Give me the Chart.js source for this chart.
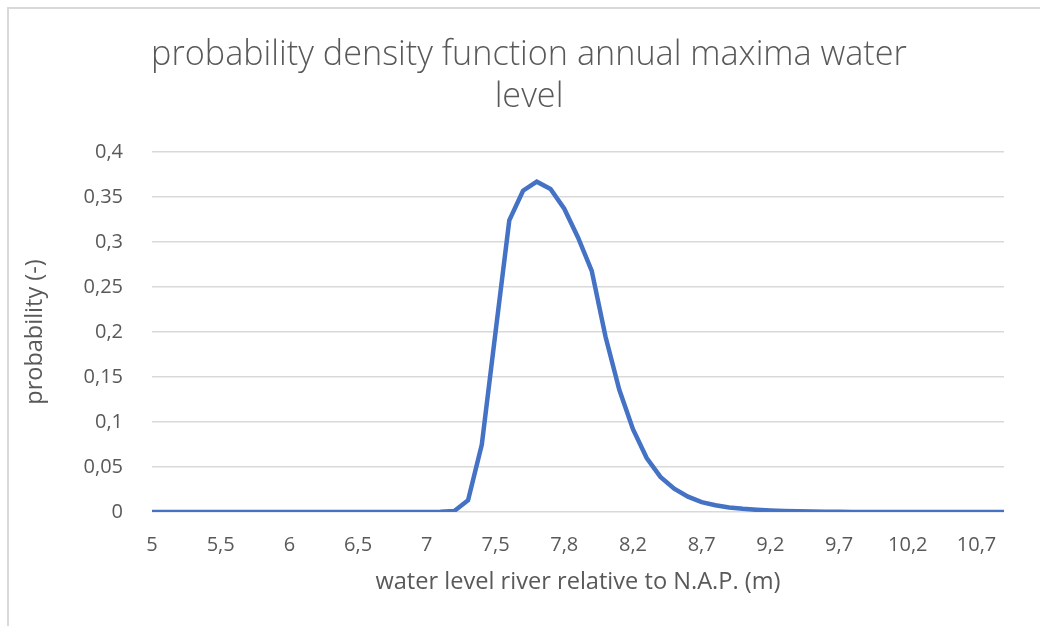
<!DOCTYPE html>
<html>
<head>
<meta charset="utf-8">
<script src="https://cdn.jsdelivr.net/npm/chart.js@4.4.1/dist/chart.umd.min.js"></script>
<style>
    html, body { margin: 0; padding: 0; background: #fff; overflow: hidden; }
    #frame {
        position: absolute; left: 7px; top: 7px;
        width: 1040px; height: 617px;
        border-left: 2px solid #d9d9d9; border-top: 2px solid #d9d9d9;
    }
    #box { position: relative; width: 1040px; height: 617px; }
</style>
</head>
<body>
<div id="frame"><div id="box"><canvas id="pdfChart"></canvas></div></div>
<script>
// water level (m relative to N.A.P.), one category per point
const waterLevels = [
    5.0, 5.1, 5.2, 5.3, 5.4, 5.5, 5.6, 5.7, 5.8, 5.9,
    6.0, 6.1, 6.2, 6.3, 6.4, 6.5, 6.6, 6.7, 6.8, 6.9,
    7.0, 7.1, 7.2, 7.3, 7.4, 7.5, 7.6, 7.65, 7.7, 7.75,
    7.8, 7.9, 8.0, 8.05, 8.1, 8.2, 8.3, 8.4, 8.5, 8.6,
    8.7, 8.8, 8.9, 9.0, 9.1, 9.2, 9.3, 9.4, 9.5, 9.6,
    9.7, 9.8, 9.9, 10.0, 10.1, 10.2, 10.3, 10.4, 10.5, 10.6,
    10.7, 10.8, 10.9
];

// probability density
const probability = [
    0, 0, 0, 0, 0, 0, 0, 0, 0, 0,
    0, 0, 0, 0, 0, 0, 0, 0, 0, 0,
    0, 0.0002, 0.0012, 0.013, 0.075, 0.2, 0.324, 0.357, 0.367, 0.359,
    0.337, 0.305, 0.268, 0.195, 0.136, 0.092, 0.06, 0.039, 0.026, 0.017,
    0.011, 0.0075, 0.005, 0.0035, 0.0024, 0.0016, 0.0011, 0.0007, 0.0005, 0.0003,
    0.0002, 0.0001, 0.0001, 0, 0, 0, 0, 0, 0, 0,
    0, 0, 0
];

const yTicks = [0, 0.05, 0.1, 0.15, 0.2, 0.25, 0.3, 0.35, 0.4];
const labelStep = 5; // Excel shows every 5th category

const textColor = '#595959';
const gridColor = '#d9d9d9';
const fontFamily = "'Open Sans', Lato, sans-serif";

const comma = v => String(v).replace('.', ',');

new Chart(document.getElementById('pdfChart'), {
    type: 'line',
    data: {
        labels: waterLevels,
        datasets: [{
            label: 'probability',
            data: probability,
            borderColor: '#4472c4',
            borderWidth: 4.5,
            pointRadius: 0,
            tension: 0,
            fill: false
        }]
    },
    options: {
        responsive: true,
        maintainAspectRatio: false,
        animation: false,
        layout: { padding: 0 },
        plugins: {
            legend: { display: false },
            tooltip: { enabled: false },
            title: {
                display: true,
                text: ['probability density function annual maxima water', 'level'],
                color: textColor,
                font: { family: fontFamily, size: 34.2, weight: '300', lineHeight: 1.228 },
                padding: { top: 25, bottom: 34 }
            }
        },
        scales: {
            x: {
                type: 'category',
                offset: false,
                grid: { display: false, drawTicks: false },
                border: { display: false },
                ticks: {
                    autoSkip: false,
                    maxRotation: 0,
                    padding: 21,
                    color: textColor,
                    font: { family: fontFamily, size: 20 },
                    callback: function (val, i) {
                        return i % labelStep === 0 ? comma(this.getLabelForValue(val)) : '';
                    }
                },
                title: {
                    display: true,
                    text: 'water level river relative to N.A.P. (m)',
                    color: textColor,
                    font: { family: fontFamily, size: 23.6 },
                    padding: { top: 10, bottom: 30 }
                },
                afterFit: s => { s.height = 114; }
            },
            y: {
                min: 0,
                max: 0.4,
                afterBuildTicks: s => { s.ticks = yTicks.map(v => ({ value: v })); },
                grid: { color: gridColor, lineWidth: 1.5, drawTicks: false },
                border: { display: false },
                ticks: {
                    padding: 29,
                    color: textColor,
                    font: { family: fontFamily, size: 20 },
                    callback: v => comma(v)
                },
                title: {
                    display: true,
                    text: 'probability (-)',
                    color: textColor,
                    font: { family: fontFamily, size: 23.5 },
                    padding: { top: 12, bottom: 0 }
                },
                afterFit: s => { s.width = 143; }
            },
            // empty right-hand strip so the plot ends where Excel's does
            yRight: {
                position: 'right',
                grid: { display: false, drawTicks: false },
                border: { display: false },
                ticks: { display: false },
                afterFit: s => { s.width = 45; }
            }
        }
    }
});
</script>
</body>
</html>
